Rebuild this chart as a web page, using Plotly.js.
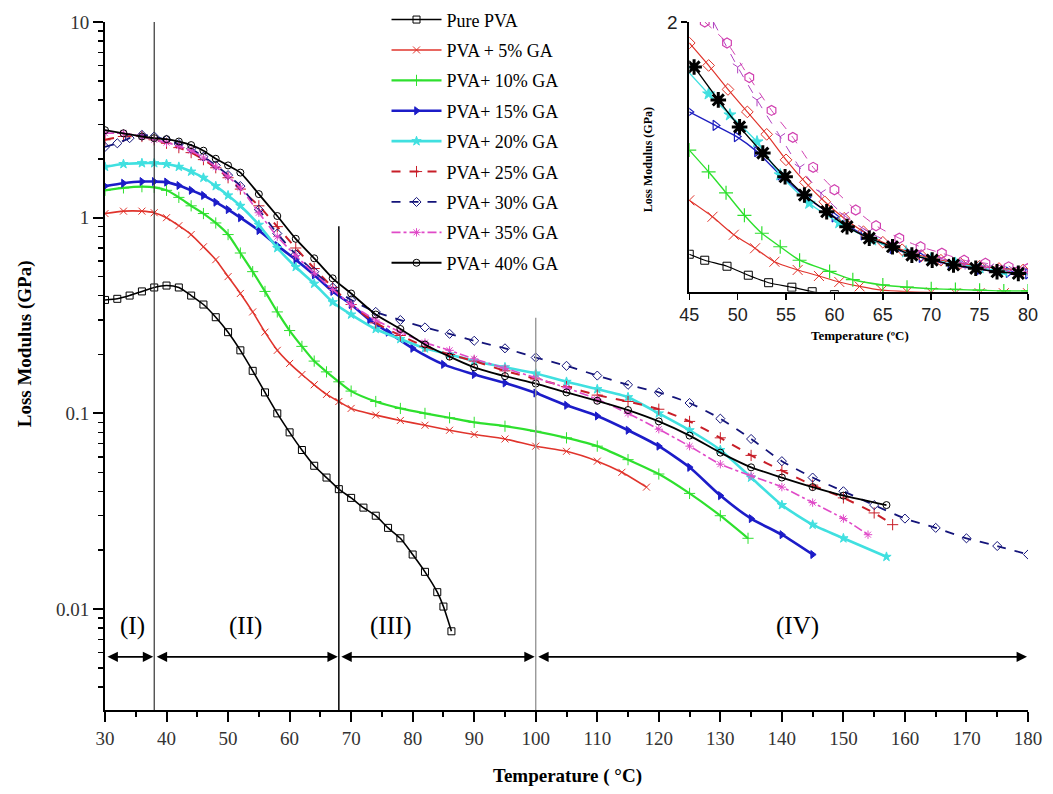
<!DOCTYPE html>
<html>
<head>
<meta charset="utf-8">
<script src="https://cdn.plot.ly/plotly-3.0.1.min.js"></script>
<style>html,body{margin:0;padding:0;background:#fff;}#chart{width:1053px;height:794px;}</style>
</head>
<body>
<div id="chart"></div>
<script>
// ---------------- main chart data (Temperature °C, Loss modulus GPa) ----------------
const seriesNames = ['Pure PVA','PVA + 5% GA','PVA+ 10% GA','PVA+ 15% GA','PVA+ 20% GA','PVA+ 25% GA','PVA+ 30% GA','PVA+ 35% GA','PVA+ 40% GA'];

const tPure = [30,32,34,36,38,40,42,44,46,48,50,52,54,56,58,60,62,64,66,68,70,72,74,76,78,80,82,84,85,86.3];
const gPure = [0.38,0.385,0.40,0.42,0.44,0.45,0.44,0.40,0.36,0.31,0.26,0.21,0.165,0.128,0.10,0.08,0.065,0.054,0.047,0.041,0.037,0.033,0.030,0.026,0.023,0.019,0.0155,0.0122,0.0103,0.0077];

const t5 = [30,33,36,38,40,42,44,46,48,50,52,54,56,58,60,62,64,66,68,70,74,78,82,86,90,95,100,105,110,114,118];
const g5 = [1.05,1.08,1.08,1.06,1.0,0.91,0.82,0.71,0.61,0.50,0.41,0.33,0.26,0.21,0.18,0.158,0.14,0.125,0.115,0.106,0.098,0.092,0.087,0.082,0.078,0.074,0.068,0.064,0.057,0.050,0.042];

const t10 = [30,33,36,38,40,42,44,46,48,50,52,54,56,58,60,62,64,66,68,70,74,78,82,86,90,95,100,105,110,115,120,125,130,134.5];
const g10 = [1.38,1.42,1.44,1.43,1.38,1.27,1.15,1.05,0.94,0.82,0.66,0.53,0.42,0.33,0.265,0.22,0.185,0.163,0.145,0.13,0.115,0.106,0.10,0.095,0.09,0.086,0.081,0.075,0.068,0.058,0.049,0.039,0.03,0.023];

const t15 = [30,33,36,38,40,42,44,46,48,50,52,55,58,61,64,67,70,73,76,80,85,90,95,100,105,110,115,120,125,130,135,140,145];
const g15 = [1.45,1.5,1.53,1.53,1.52,1.46,1.38,1.3,1.2,1.1,1.0,0.86,0.72,0.61,0.51,0.42,0.36,0.3,0.26,0.215,0.178,0.158,0.143,0.127,0.11,0.097,0.082,0.068,0.053,0.038,0.029,0.024,0.019];

const t20 = [30,33,36,38,40,42,44,46,48,50,52,55,58,61,64,67,70,74,78,82,86,90,95,100,105,110,115,120,125,130,135,140,145,150,157];
const g20 = [1.82,1.88,1.9,1.9,1.88,1.82,1.72,1.6,1.45,1.3,1.15,0.92,0.70,0.56,0.46,0.37,0.32,0.27,0.24,0.215,0.2,0.185,0.172,0.16,0.145,0.133,0.121,0.10,0.082,0.065,0.047,0.034,0.027,0.023,0.0185];

const t25 = [30,33,36,38,40,42,44,46,48,50,52,55,58,61,64,67,70,74,78,82,86,90,95,100,105,110,115,120,125,130,135,140,145,150,155,158];
const g25 = [2.5,2.6,2.6,2.5,2.4,2.28,2.15,1.98,1.8,1.6,1.4,1.15,0.9,0.7,0.55,0.44,0.36,0.29,0.25,0.22,0.2,0.185,0.165,0.15,0.137,0.124,0.115,0.105,0.091,0.075,0.061,0.051,0.043,0.037,0.031,0.027];

const t30 = [30,32,34,36,38,40,42,44,46,48,50,52,55,58,61,64,67,70,74,78,82,86,90,95,100,105,110,115,120,125,130,135,140,145,150,155,160,165,170,175,180];
const g30 = [2.3,2.4,2.55,2.65,2.6,2.5,2.38,2.25,2.05,1.85,1.65,1.45,1.1,0.83,0.65,0.53,0.44,0.38,0.33,0.30,0.275,0.255,0.235,0.215,0.193,0.175,0.156,0.14,0.128,0.113,0.094,0.074,0.057,0.047,0.04,0.034,0.029,0.026,0.023,0.021,0.019];

const t35 = [30,33,36,38,40,42,44,46,48,50,52,55,58,61,64,67,70,74,78,82,86,90,95,100,105,110,115,120,125,130,135,140,145,150,154];
const g35 = [2.7,2.7,2.6,2.5,2.42,2.32,2.2,2.02,1.82,1.62,1.42,1.06,0.8,0.64,0.52,0.43,0.36,0.3,0.26,0.23,0.21,0.19,0.17,0.152,0.135,0.118,0.1,0.083,0.068,0.055,0.048,0.042,0.035,0.029,0.024];

const t40 = [30,33,36,38,40,42,44,46,48,50,52,55,58,61,64,67,70,74,78,82,86,90,95,100,105,110,115,120,125,130,135,140,145,150,157];
const g40 = [2.8,2.7,2.6,2.55,2.52,2.45,2.35,2.2,2.0,1.85,1.7,1.32,1.02,0.78,0.62,0.49,0.41,0.32,0.27,0.225,0.195,0.172,0.155,0.142,0.128,0.116,0.104,0.091,0.077,0.063,0.053,0.047,0.042,0.038,0.034];

// temperature regions
const regionBounds = [30, 38, 68, 100, 180];
const regionNames = ['(I)', '(II)', '(III)', '(IV)'];
const regionLabelX = [34.5, 52.8, 76.5, 142.5];

// ---------------- inset data (45–80 °C) ----------------
const iTPure = [45,46.6,48.9,51.1,53.2,55.6,57.7,60];
const iGPure = [0.45,0.41,0.37,0.31,0.26,0.23,0.2,0.18];
const iT5 = [45,47.4,49.6,51.8,53.8,56.2,58.4,60.5,62.6,64.9,67.5,70,72.5,75,77.5,80];
const iG5 = [0.81,0.70,0.58,0.49,0.40,0.345,0.305,0.265,0.235,0.21,0.2,0.195,0.19,0.19,0.19,0.19];
const iT10 = [45,47,48.8,50.7,52.5,54.4,56.4,59.5,61.9,65,67.5,70,72.5,75,77.5,80];
const iG10 = [1.145,1.0,0.86,0.71,0.59,0.5,0.41,0.335,0.28,0.245,0.23,0.22,0.215,0.21,0.205,0.205];
const iT15 = [45,47.7,49.9,52,54.4,57.1,60,63,66,69,72,75,78,80];
const iG15 = [1.40,1.31,1.235,1.135,0.98,0.83,0.7,0.58,0.49,0.43,0.38,0.35,0.33,0.32];
const iT20 = [44.6,47,49.2,52,54.4,57.4,60.5,63.9,67.4,70,72.5,75,77.5,80.5];
const iG20 = [1.69,1.52,1.38,1.2,0.98,0.79,0.66,0.545,0.466,0.42,0.39,0.36,0.335,0.31];
const iT25 = [45,47,49,51,53,55,57,59,61,63,65,67,69,71,73,75,77,79.5];
const iG25 = [1.86,1.71,1.55,1.4,1.25,1.08,0.93,0.8,0.69,0.6,0.53,0.48,0.44,0.41,0.39,0.37,0.355,0.345];
const iT35 = [47.5,50,52,54.4,56.4,58.6,61,63.5,66,68.5,71,73.5,76,78.5,80];
const iG35 = [2.0,1.7,1.48,1.235,1.03,0.86,0.71,0.6,0.52,0.46,0.42,0.39,0.365,0.35,0.345];
const iTHex = [46.6,48.9,51.2,53.5,55.7,57.8,60,62.2,64.3,66.7,68.9,71.1,73.4,75.6,78,80];
const iGHex = [2.0,1.86,1.63,1.41,1.23,1.03,0.88,0.745,0.64,0.557,0.5,0.457,0.41,0.39,0.366,0.355];
const iT40 = [45.5,48,50.2,52.6,54.9,56.9,59.2,61.3,63.6,66,68,70.1,72.3,74.6,76.8,79];
const iG40 = [1.70,1.48,1.30,1.125,0.967,0.845,0.734,0.634,0.557,0.5,0.444,0.411,0.378,0.356,0.333,0.322];

// ---------------- traces ----------------
function mainTrace(i, x, y, color, width, dash, symbol, msize){
  return {
    x: x, y: y, name: seriesNames[i], type: 'scatter', mode: 'lines+markers',
    line: {color: color, width: width, dash: dash, shape: 'spline', smoothing: 0.6},
    marker: {symbol: symbol, size: msize, color: color, line: {color: color, width: 1}},
    legendgroup: 'g' + i, xaxis: 'x', yaxis: 'y'
  };
}
const traces = [
  mainTrace(0, tPure, gPure, '#000000', 1.6, 'solid', 'square-open', 7),
  mainTrace(1, t5, g5, '#e0342c', 1.6, 'solid', 'x-thin', 7),
  mainTrace(2, t10, g10, '#2ee02e', 2.2, 'solid', 'cross-thin', 8),
  mainTrace(3, t15, g15, '#1c1cc8', 2.6, 'solid', 'triangle-right', 7),
  mainTrace(4, t20, g20, '#40e0e0', 2.6, 'solid', 'star', 7),
  mainTrace(5, t25, g25, '#c81e28', 2.0, 'dash', 'cross-thin', 8),
  mainTrace(6, t30, g30, '#14147a', 1.8, 'dash', 'diamond-open', 7),
  mainTrace(7, t35, g35, '#e04ac8', 1.6, 'dashdot', 'asterisk-open', 7),
  mainTrace(8, t40, g40, '#000000', 1.8, 'solid', 'circle-open', 7)
];

function insetTrace(x, y, color, width, dash, symbol, msize, mlw){
  return {
    x: x, y: y, type: 'scatter', mode: 'lines+markers', showlegend: false, cliponaxis: true,
    line: {color: color, width: width, dash: dash, shape: 'spline', smoothing: 0.6},
    marker: {symbol: symbol, size: msize, color: color, line: {color: color, width: mlw}},
    xaxis: 'x2', yaxis: 'y2', hoverinfo: 'x+y'
  };
}
traces.push(
  insetTrace(iTPure, iGPure, '#000000', 1.2, 'solid', 'square-open', 8, 1),
  insetTrace(iT5, iG5, '#e0342c', 1.2, 'solid', 'x-thin', 10, 1),
  insetTrace(iT10, iG10, '#2ee02e', 1.4, 'solid', 'cross-thin', 10, 1.2),
  insetTrace(iT15, iG15, '#2020c0', 1.4, 'solid', 'triangle-right-open', 9, 1.2),
  insetTrace(iT20, iG20, '#40e0e0', 1.4, 'solid', 'star', 9, 1),
  insetTrace(iT25, iG25, '#e0342c', 1.2, 'solid', 'diamond-open', 9, 1),
  insetTrace(iT35, iG35, '#b040c0', 1.0, 'dash', 'y-down-open', 8, 1),
  insetTrace(iTHex, iGHex, '#d040b0', 1.0, 'dash', 'hexagon-open', 10, 1.2),
  insetTrace(iT40, iG40, '#000000', 1.4, 'solid', 'asterisk-open', 13, 3)
);

// ---------------- layout ----------------
const serif = 'Liberation Serif, Times New Roman, serif';
const sans = 'Liberation Sans, Arial, sans-serif';
const arrowLogY = Math.log10(0.0057);
const labelLogY = Math.log10(0.0082);

const annotations = [];
for (let i = 0; i < regionNames.length; i++) {
  annotations.push({
    x: regionBounds[i + 1], y: arrowLogY, ax: regionBounds[i], ay: arrowLogY,
    xref: 'x', yref: 'y', axref: 'x', ayref: 'y', text: '', showarrow: true,
    arrowhead: 2, arrowside: 'end+start', arrowsize: 1.3, arrowwidth: 1.6, arrowcolor: '#000',
    standoff: 1, startstandoff: 1
  });
  annotations.push({
    x: regionLabelX[i], y: labelLogY, xref: 'x', yref: 'y', text: regionNames[i],
    xanchor: 'center', yanchor: 'middle',
    showarrow: false, font: {family: serif, size: 25, color: '#000'}
  });
}
annotations.push(
  {text: '<b>Loss Modulus (GPa)</b>', xref: 'paper', yref: 'paper', x: -0.0867, y: 0.533,
   xanchor: 'center', yanchor: 'middle',
   textangle: -90, showarrow: false, font: {family: serif, size: 19, color: '#000'}},
  {text: '<b>Temperature ( °C)</b>', xref: 'paper', yref: 'paper', x: 0.5016, y: -0.096,
   xanchor: 'center', yanchor: 'middle',
   showarrow: false, font: {family: serif, size: 19, color: '#000'}},
  {text: '<b>Loss Modulus (GPa)</b>', xref: 'paper', yref: 'paper', x: 0.588, y: 0.80,
   xanchor: 'center', yanchor: 'middle',
   textangle: -90, showarrow: false, font: {family: serif, size: 12, color: '#000'}},
  {text: '<b>Temperature (ºC)</b>', xref: 'paper', yref: 'paper', x: 0.818, y: 0.545,
   xanchor: 'center', yanchor: 'middle',
   showarrow: false, font: {family: serif, size: 13, color: '#000'}}
);

const layout = {
  width: 1053, height: 794,
  margin: {l: 105, r: 25, t: 22, b: 84, autoexpand: false},
  paper_bgcolor: '#fff', plot_bgcolor: 'rgba(0,0,0,0)',
  font: {family: serif, color: '#000', size: 18},
  showlegend: true,
  legend: {x: 0.305, y: 1.03, xanchor: 'left', yanchor: 'top', bgcolor: 'rgba(255,255,255,0)',
           font: {family: serif, size: 18, color: '#000'}, tracegroupgap: 4, itemwidth: 50},
  xaxis: {
    domain: [0, 1], range: [30, 180], dtick: 10, tick0: 30, automargin: false,
    showline: true, linecolor: '#000', linewidth: 2, zeroline: false, showgrid: false,
    ticks: 'outside', ticklen: 10, tickwidth: 2, tickcolor: '#000',
    tickfont: {family: serif, size: 19, color: '#333'},
    minor: {dtick: 5, ticks: 'outside', ticklen: 5, tickwidth: 2, tickcolor: '#000', showgrid: false},
    anchor: 'y'
  },
  yaxis: {
    domain: [0, 1], type: 'log', range: [Math.log10(0.00305), 1], dtick: 1, exponentformat: 'none', automargin: false,
    showline: true, linecolor: '#000', linewidth: 2, zeroline: false, showgrid: false,
    ticks: 'outside', ticklen: 10, tickwidth: 2, tickcolor: '#000',
    tickfont: {family: serif, size: 19, color: '#333'},
    minor: {dtick: 'D1', ticks: 'outside', ticklen: 5, tickwidth: 1.5, tickcolor: '#000', showgrid: false},
    anchor: 'x'
  },
  xaxis2: {
    domain: [0.633, 1.0], range: [45, 80], dtick: 5, tick0: 45, anchor: 'y2', automargin: false,
    showline: true, linecolor: '#000', linewidth: 2, zeroline: false, showgrid: false,
    ticks: 'outside', ticklen: 6, tickwidth: 1.5, tickcolor: '#000',
    tickfont: {family: sans, size: 18, color: '#222'}
  },
  yaxis2: {
    domain: [0.608, 1.0], range: [0.2, 2], tickvals: [2], ticktext: ['2'], anchor: 'x2', automargin: false,
    showline: true, linecolor: '#000', linewidth: 2, zeroline: false, showgrid: false,
    ticks: 'outside', ticklen: 6, tickwidth: 1.5, tickcolor: '#000',
    tickfont: {family: sans, size: 19, color: '#222'}
  },
  shapes: [
    {type: 'line', xref: 'x', yref: 'paper', x0: regionBounds[1], x1: regionBounds[1], y0: 0, y1: 1,
     line: {color: '#333', width: 1.2}},
    {type: 'line', xref: 'x', yref: 'paper', x0: regionBounds[2], x1: regionBounds[2], y0: 0, y1: 0.703,
     line: {color: '#111', width: 1.6}},
    {type: 'line', xref: 'x', yref: 'paper', x0: regionBounds[3], x1: regionBounds[3], y0: 0, y1: 0.57,
     line: {color: '#999', width: 1.4}}
  ],
  annotations: annotations
};

Plotly.newPlot('chart', traces, layout, {displayModeBar: false, staticPlot: true});
</script>
</body>
</html>
